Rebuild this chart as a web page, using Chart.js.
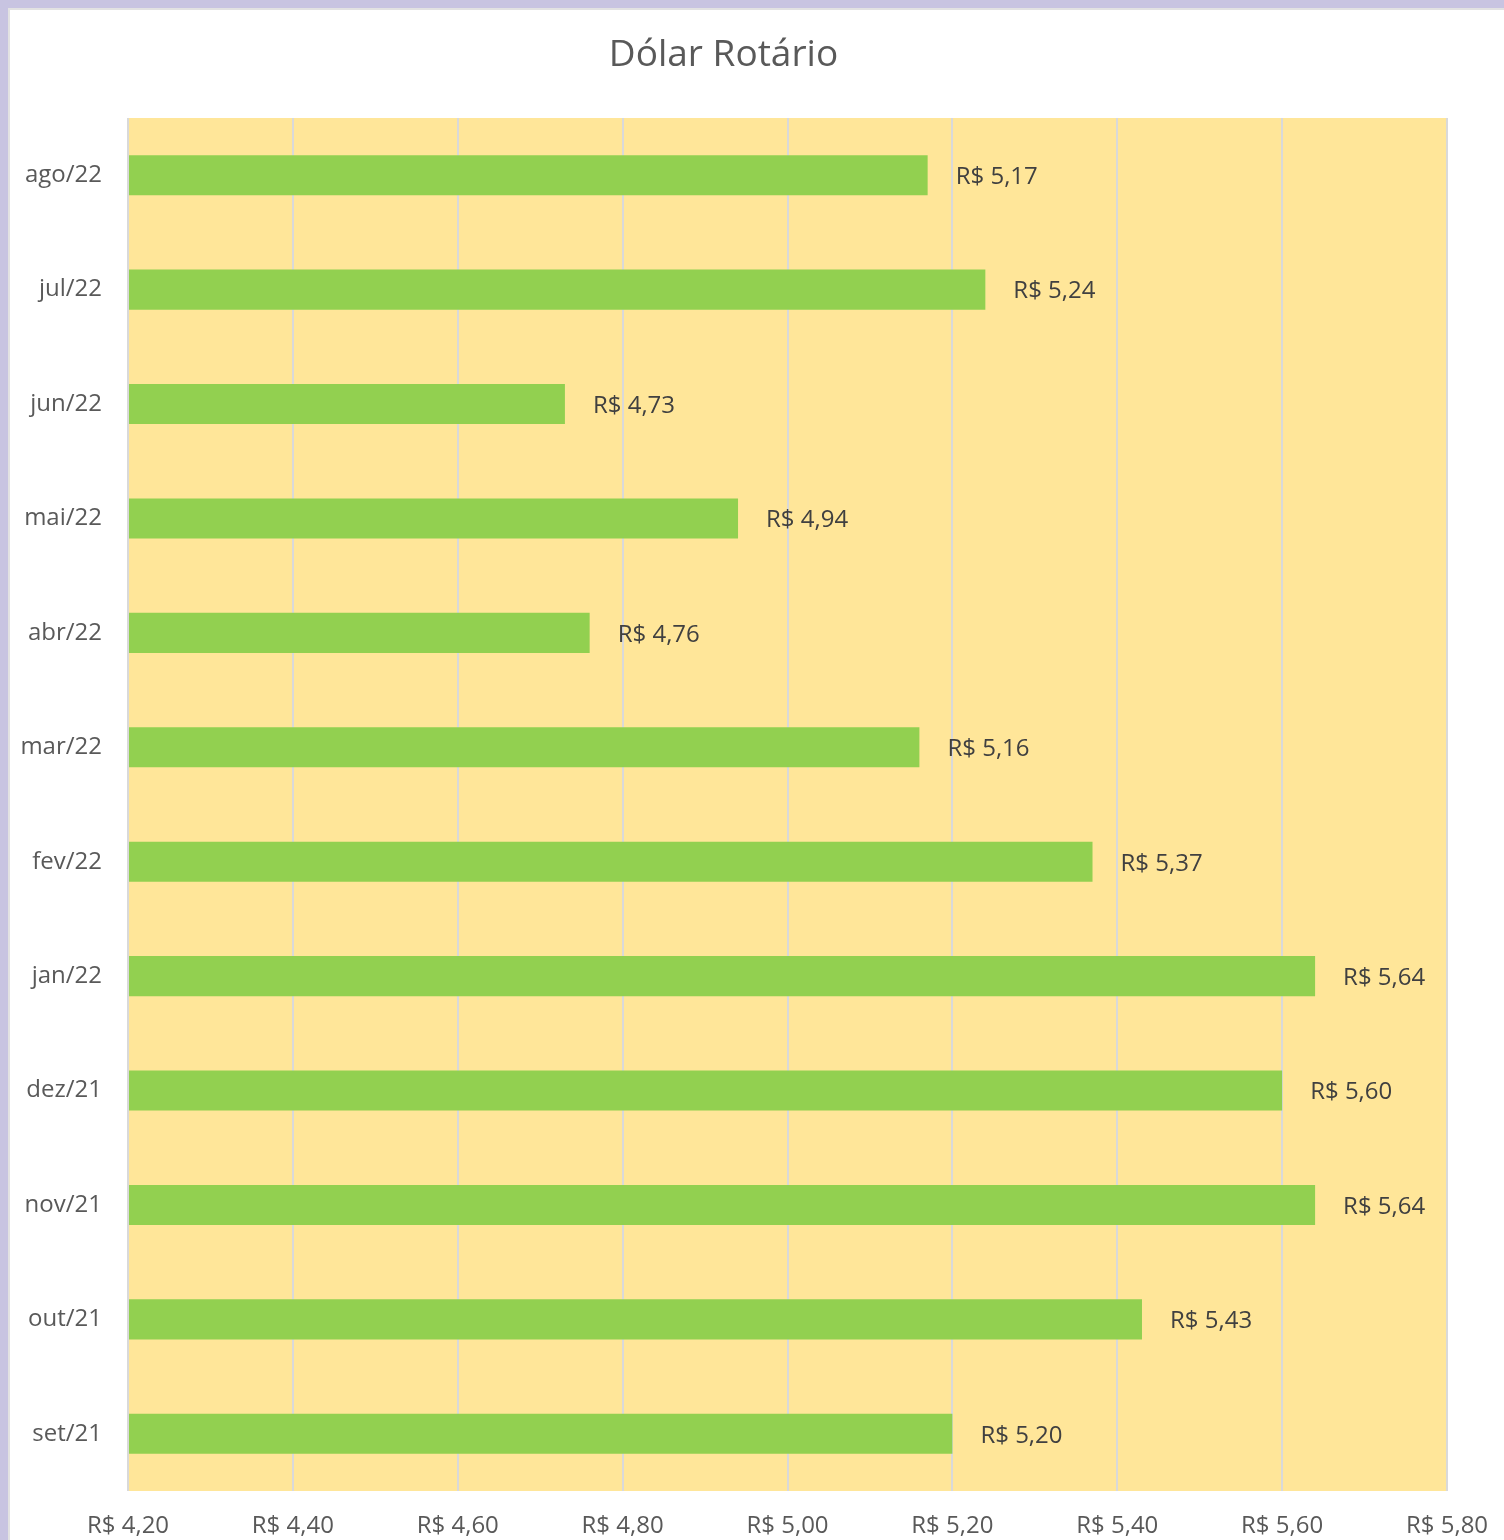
<!DOCTYPE html>
<html>
<head>
<meta charset="utf-8">
<script src="https://cdn.jsdelivr.net/npm/chart.js@4.4.1/dist/chart.umd.min.js"></script>
<style>
  html, body { margin: 0; padding: 0; background: #ffffff; overflow: hidden; }
  #wrap { position: relative; width: 1504px; height: 1540px; }
  #c { position: absolute; left: 0; top: 0; }
  .bt { position: absolute; left: 0; top: 0; width: 1504px; height: 8px; background: #C8C4E1; }
  .bt2 { position: absolute; left: 8px; top: 8px; width: 1496px; height: 2px; background: #E2E2E2; }
  .bl { position: absolute; left: 0; top: 0; width: 8px; height: 1540px; background: #C8C4E1; }
  .bl2 { position: absolute; left: 8px; top: 8px; width: 2px; height: 1532px; background: #E2E2E2; }
</style>
</head>
<body>
<div id="wrap">
  <canvas id="c" width="1504" height="1540"></canvas>
  <div class="bt"></div><div class="bt2"></div><div class="bl"></div><div class="bl2"></div>
</div>
<script>
const chartTitle = 'Dólar Rotário';
const categories = ['ago/22', 'jul/22', 'jun/22', 'mai/22', 'abr/22', 'mar/22', 'fev/22', 'jan/22', 'dez/21', 'nov/21', 'out/21', 'set/21'];
const values = [5.17, 5.24, 4.73, 4.94, 4.76, 5.16, 5.37, 5.64, 5.60, 5.64, 5.43, 5.20];
const tickValues = [4.2, 4.4, 4.6, 4.8, 5.0, 5.2, 5.4, 5.6, 5.8];
const tickLabels = ['R$ 4,20', 'R$ 4,40', 'R$ 4,60', 'R$ 4,80', 'R$ 5,00', 'R$ 5,20', 'R$ 5,40', 'R$ 5,60', 'R$ 5,80'];

const FONT = "'Open Sans', 'DejaVu Sans', sans-serif";

function brl(v) {
  return 'R$ ' + v.toFixed(2).replace('.', ',');
}

const plotBg = {
  id: 'plotBg',
  beforeDraw(chart) {
    const a = chart.chartArea, ctx = chart.ctx;
    ctx.save();
    ctx.fillStyle = '#FFE699';
    ctx.fillRect(a.left, a.top, a.right - a.left, a.bottom - a.top);
    ctx.restore();
  }
};

const valueLabels = {
  id: 'valueLabels',
  afterDatasetsDraw(chart) {
    const ctx = chart.ctx;
    const meta = chart.getDatasetMeta(0);
    ctx.save();
    ctx.font = '24px ' + FONT;
    ctx.fillStyle = '#404040';
    ctx.textAlign = 'left';
    ctx.textBaseline = 'middle';
    meta.data.forEach((bar, i) => {
      ctx.fillText(brl(values[i]), bar.x + 28, bar.y + 2);
    });
    ctx.restore();
  }
};

new Chart(document.getElementById('c'), {
  type: 'bar',
  data: {
    labels: categories,
    datasets: [{
      data: values,
      backgroundColor: '#92D050',
      borderWidth: 0,
      barPercentage: 0.35,
      categoryPercentage: 1.0,
      base: 4.2
    }]
  },
  options: {
    indexAxis: 'y',
    responsive: false,
    animation: false,
    devicePixelRatio: 1,
    layout: { padding: { left: 0, right: 57, top: 0, bottom: 0 } },
    plugins: {
      legend: { display: false },
      tooltip: { enabled: false },
      title: {
        display: true,
        text: chartTitle,
        color: '#595959',
        font: { family: FONT, size: 37, weight: 'normal', lineHeight: 1.2 },
        padding: { top: 33, bottom: 40.6 }
      }
    },
    scales: {
      x: {
        min: 4.2,
        max: 5.8,
        afterBuildTicks(scale) {
          scale.ticks = tickValues.map(v => ({ value: v }));
        },
        afterFit(scale) {
          scale.height = 49;
          scale.paddingLeft = 0;
          scale.paddingRight = 0;
        },
        grid: { color: '#D9D9D9', lineWidth: 2, drawTicks: false },
        border: { display: false },
        ticks: {
          padding: 21,
          color: '#595959',
          font: { family: FONT, size: 24 },
          maxRotation: 0,
          autoSkip: false,
          callback(value, index) { return tickLabels[index]; }
        }
      },
      y: {
        afterFit(scale) { scale.width = 128; scale.paddingTop = 0; scale.paddingBottom = 0; },
        grid: { display: false, drawTicks: false },
        border: { display: false },
        ticks: {
          padding: 26,
          color: '#595959',
          font: { family: FONT, size: 24 }
        }
      }
    }
  },
  plugins: [plotBg, valueLabels]
});
</script>
</body>
</html>
